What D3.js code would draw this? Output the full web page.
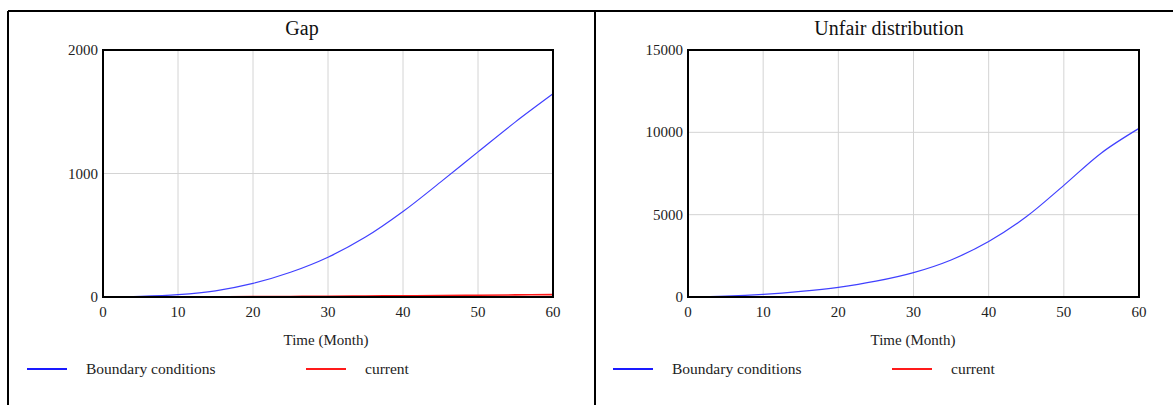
<!DOCTYPE html>
<html lang="en">
<head>
    <meta charset="UTF-8">
    <script src="https://cdn.jsdelivr.net/npm/d3@7/dist/d3.min.js"></script>
    <title>Gap / Unfair distribution</title>
    <style>
        body { margin: 0; background: #fff; }
        svg { display: block; font-family: "Liberation Serif", "Times New Roman", serif; }
        .grid line { stroke: #d4d4d4; stroke-width: 1px; }
        .frame { fill: none; stroke: #000; stroke-width: 2px; }
        .tick-label { font-size: 15px; fill: #222; }
        .legend-label { font-size: 15.5px; fill: #222; }
    </style>
</head>
<body>
<svg id="chart"></svg>
<script>
    // time axis (months)
    var months = [0, 5, 10, 15, 20, 25, 30, 35, 40, 45, 50, 55, 60];

    // Gap
    var gapBoundary = [0, 5, 19, 50, 110, 200, 322, 485, 692, 930, 1175, 1418, 1645];
    var gapCurrent = [0, 0.5, 1, 2, 3, 4.5, 6, 8, 10, 12, 14.5, 17, 19.5];

    // Unfair distribution
    var unfairBoundary = [0, 50, 160, 340, 590, 960, 1480, 2250, 3370, 4870, 6780, 8750, 10240];
    var unfairCurrent = [0, 1, 2, 3, 4, 5, 6, 7, 8, 9, 10, 11, 12];

    var xTicks = [0, 10, 20, 30, 40, 50, 60];
    var gapTicks = [0, 1000, 2000];
    var unfairTicks = [0, 5000, 10000, 15000];

    var seriesNames = ["Boundary conditions", "current"];
    var seriesColors = ["#4040ff", "#ff1a1a"];

    var width = 1173, height = 405;
    var svg = d3.select("#chart").attr("width", width).attr("height", height);

    // outer panel borders
    svg.append("line").attr("x1", 8).attr("x2", width).attr("y1", 11).attr("y2", 11)
            .attr("stroke", "#000").attr("stroke-width", 2);
    svg.append("line").attr("x1", 8).attr("x2", 8).attr("y1", 11).attr("y2", height)
            .attr("stroke", "#000").attr("stroke-width", 2);
    svg.append("line").attr("x1", 595).attr("x2", 595).attr("y1", 11).attr("y2", height)
            .attr("stroke", "#000").attr("stroke-width", 2);

    function drawPanel(opt) {
        var g = svg.append("g");
        var x = d3.scaleLinear().domain([0, 60]).range([opt.left, opt.right]);
        var y = d3.scaleLinear().domain([0, opt.yMax]).range([297, 50]);

        // title
        g.append("text")
                .attr("x", opt.titleX).attr("y", 35)
                .attr("text-anchor", "middle")
                .style("font-size", "20px")
                .attr("fill", "#111")
                .text(opt.title);

        // grid
        var grid = g.append("g").attr("class", "grid");
        grid.selectAll("line.v").data(xTicks.slice(1, -1)).enter().append("line")
                .attr("x1", function (d) { return x(d); })
                .attr("x2", function (d) { return x(d); })
                .attr("y1", y(opt.yMax)).attr("y2", y(0));
        grid.selectAll("line.h").data(opt.yTicks.slice(1, -1)).enter().append("line")
                .attr("x1", x(0)).attr("x2", x(60))
                .attr("y1", function (d) { return y(d); })
                .attr("y2", function (d) { return y(d); });

        // lines
        var line = d3.line()
                .x(function (d) { return x(d[0]); })
                .y(function (d) { return y(d[1]); })
                .curve(d3.curveCatmullRom.alpha(0.5));

        opt.series.forEach(function (vals, i) {
            g.append("path")
                    .datum(months.map(function (m, j) { return [m, vals[j]]; }))
                    .attr("fill", "none")
                    .attr("stroke", seriesColors[i])
                    .attr("stroke-width", i === 0 ? 1.2 : 1.6)
                    .attr("d", line);
        });

        // frame
        g.append("rect").attr("class", "frame")
                .attr("x", x(0)).attr("y", y(opt.yMax))
                .attr("width", x(60) - x(0)).attr("height", y(0) - y(opt.yMax));

        // axis labels
        g.selectAll("text.xt").data(xTicks).enter().append("text")
                .attr("class", "tick-label")
                .attr("x", function (d) { return x(d); })
                .attr("y", 317)
                .attr("text-anchor", "middle")
                .text(function (d) { return d; });
        g.selectAll("text.yt").data(opt.yTicks).enter().append("text")
                .attr("class", "tick-label")
                .attr("x", x(0) - 5)
                .attr("y", function (d) { return y(d) + 5; })
                .attr("text-anchor", "end")
                .text(function (d) { return d; });

        g.append("text")
                .attr("class", "tick-label")
                .attr("x", opt.xLabelX).attr("y", 345)
                .attr("text-anchor", "middle")
                .text("Time (Month)");

        // legend
        opt.legend.forEach(function (lg, i) {
            g.append("line")
                    .attr("x1", lg[0]).attr("x2", lg[0] + 40)
                    .attr("y1", 369).attr("y2", 369)
                    .attr("stroke", i === 0 ? "#1a1aff" : "#ff1a1a")
                    .attr("stroke-width", 2);
            g.append("text")
                    .attr("class", "legend-label")
                    .attr("x", lg[1]).attr("y", 374)
                    .text(seriesNames[i]);
        });
    }

    drawPanel({
        title: "Gap", titleX: 302, xLabelX: 326,
        left: 103, right: 553, yMax: 2000, yTicks: gapTicks,
        series: [gapBoundary, gapCurrent],
        legend: [[27, 86], [306, 365]]
    });

    drawPanel({
        title: "Unfair distribution", titleX: 889, xLabelX: 913,
        left: 688, right: 1139, yMax: 15000, yTicks: unfairTicks,
        series: [unfairBoundary, unfairCurrent],
        legend: [[613, 672], [892, 951]]
    });
</script>
</body>
</html>
